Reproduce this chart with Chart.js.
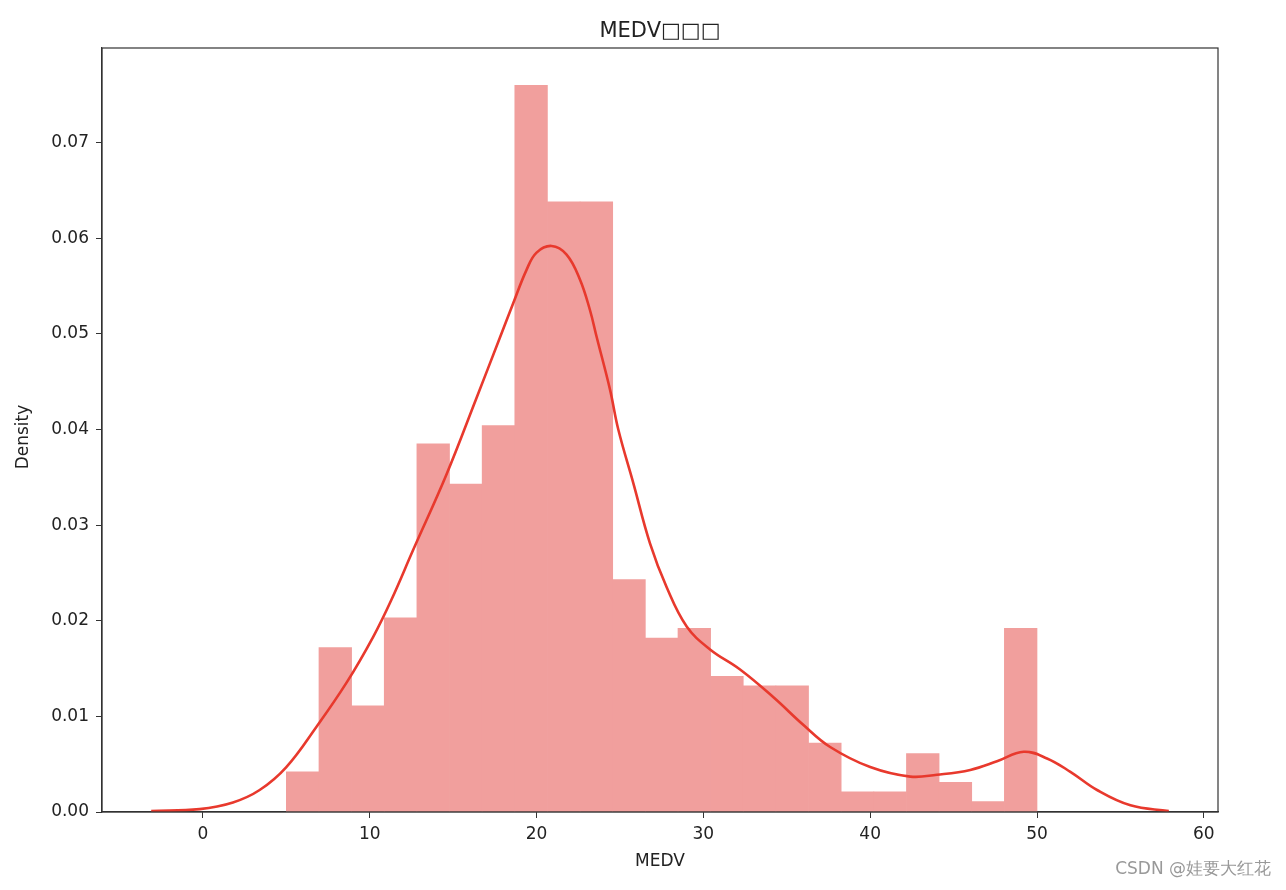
<!DOCTYPE html>
<html>
<head>
<meta charset="utf-8">
<script src="https://cdn.jsdelivr.net/npm/chart.js@4.4.1/dist/chart.umd.min.js"></script>
<style>
  body { margin: 0; background: #fff; }
  #wrap { width: 1286px; height: 890px; position: relative; }
</style>
</head>
<body>
<div id="wrap"><canvas id="medvChart"></canvas></div>
<script>
// 直方图：23 个分箱，范围 5 ~ 50
const binStart = 5;
const binEnd = 50;
const histDensity = [
  0.0042, 0.0172, 0.0111, 0.0203, 0.0385, 0.0343, 0.0404, 0.0760,
  0.0638, 0.0638, 0.0243, 0.0182, 0.0192, 0.0142, 0.0132, 0.0132,
  0.0072, 0.0021, 0.0021, 0.0061, 0.0031, 0.0011, 0.0192
];

// KDE 曲线（从图上读出的点）
const kdeX = [-3.1, -0.2, 1.8, 3.4, 5.0, 6.8, 8.6, 10.2, 11.3, 12.6, 14.6, 16.4, 17.8, 18.6,
  19.4, 20.0, 20.9, 21.8, 22.6, 23.2, 23.6, 24.4, 24.9, 25.8, 26.8, 27.8, 29.0, 30.4, 32.2,
  34.2, 36.0, 37.6, 40.0, 42.4, 44.0, 46.0, 47.6, 49.2, 50.6, 52.0, 53.6, 55.6, 57.9];
const kdeY = [0.0001, 0.0003, 0.0010, 0.0023, 0.0047, 0.0089, 0.0135, 0.0183, 0.0222, 0.0274,
  0.0353, 0.0433, 0.0496, 0.0532, 0.0567, 0.0585, 0.0592, 0.0583, 0.0557, 0.0525, 0.0497, 0.0442,
  0.0400, 0.0344, 0.0281, 0.0235, 0.0194, 0.0170, 0.0149, 0.0120, 0.0091, 0.0068, 0.0047, 0.0037,
  0.0039, 0.0044, 0.0053, 0.0063, 0.0056, 0.0042, 0.0023, 0.0007, 0.0001];

const xTicks = [0, 10, 20, 30, 40, 50, 60];
const yTicks = [0, 0.01, 0.02, 0.03, 0.04, 0.05, 0.06, 0.07];

const chartTitle = 'MEDV□□□';
const xLabel = 'MEDV';
const yLabel = 'Density';
const watermark = 'CSDN @娃要大红花';

const FONT = '"DejaVu Sans", sans-serif';

const binWidth = (binEnd - binStart) / histDensity.length;
const histData = histDensity.map((d, i) => ({ x: binStart + (i + 0.5) * binWidth, y: d }));
const kdeData = kdeX.map((x, i) => ({ x: x, y: kdeY[i] }));

// 标题、轴标签、四周边框、水印
const decorPlugin = {
  id: 'decor',
  afterDraw(chart) {
    const { ctx, chartArea: a } = chart;
    ctx.save();
    ctx.strokeStyle = '#333';
    ctx.lineWidth = 1.2;
    ctx.strokeRect(a.left, a.top, a.right - a.left, a.bottom - a.top);

    ctx.fillStyle = '#222';
    ctx.textAlign = 'center';
    ctx.textBaseline = 'middle';
    ctx.font = '21px ' + FONT;
    ctx.fillText(chartTitle, (a.left + a.right) / 2, 32);

    ctx.font = '17px ' + FONT;
    ctx.fillText(xLabel, (a.left + a.right) / 2, 862);

    ctx.translate(24, 437);
    ctx.rotate(-Math.PI / 2);
    ctx.fillText(yLabel, 0, 0);
    ctx.restore();

    ctx.save();
    ctx.fillStyle = '#999';
    ctx.font = '17px ' + FONT;
    ctx.textAlign = 'right';
    ctx.textBaseline = 'middle';
    ctx.fillText(watermark, 1271, 870);
    ctx.restore();
  }
};

const ctx = document.getElementById('medvChart').getContext('2d');
new Chart(ctx, {
  type: 'bar',
  data: {
    datasets: [
      {
        type: 'line',
        data: kdeData,
        borderColor: '#e8392d',
        borderWidth: 2.6,
        pointRadius: 0,
        tension: 0.4,
        fill: false,
        order: 0
      },
      {
        type: 'bar',
        data: histData,
        backgroundColor: '#f19f9d',
        borderWidth: 0,
        barPercentage: 1,
        categoryPercentage: 1,
        order: 1
      }
    ]
  },
  options: {
    responsive: true,
    maintainAspectRatio: false,
    animation: false,
    layout: { padding: { top: 48, right: 68, left: 0, bottom: 0 } },
    plugins: {
      legend: { display: false },
      tooltip: { enabled: false },
      title: { display: false }
    },
    scales: {
      x: {
        type: 'linear',
        min: -6.05,
        max: 60.85,
        offset: false,
        afterFit(scale) { scale.height = 78; },
        afterBuildTicks(scale) { scale.ticks = xTicks.map(v => ({ value: v })); },
        ticks: {
          color: '#222',
          font: { family: FONT, size: 17 },
          padding: 6,
          maxRotation: 0,
          callback: v => String(v)
        },
        grid: { display: true, drawOnChartArea: false, drawTicks: true, tickLength: 6, color: '#333', offset: false },
        border: { display: true, color: '#333', width: 1.2 }
      },
      y: {
        min: 0,
        max: 0.0799,
        afterFit(scale) { scale.width = 102; },
        afterBuildTicks(scale) { scale.ticks = yTicks.map(v => ({ value: v })); },
        ticks: {
          color: '#222',
          font: { family: FONT, size: 17 },
          padding: 7,
          callback: v => Number(v).toFixed(2)
        },
        grid: { display: true, drawOnChartArea: false, drawTicks: true, tickLength: 6, color: '#333' },
        border: { display: true, color: '#333', width: 1.2 }
      }
    }
  },
  plugins: [decorPlugin]
});
</script>
</body>
</html>
